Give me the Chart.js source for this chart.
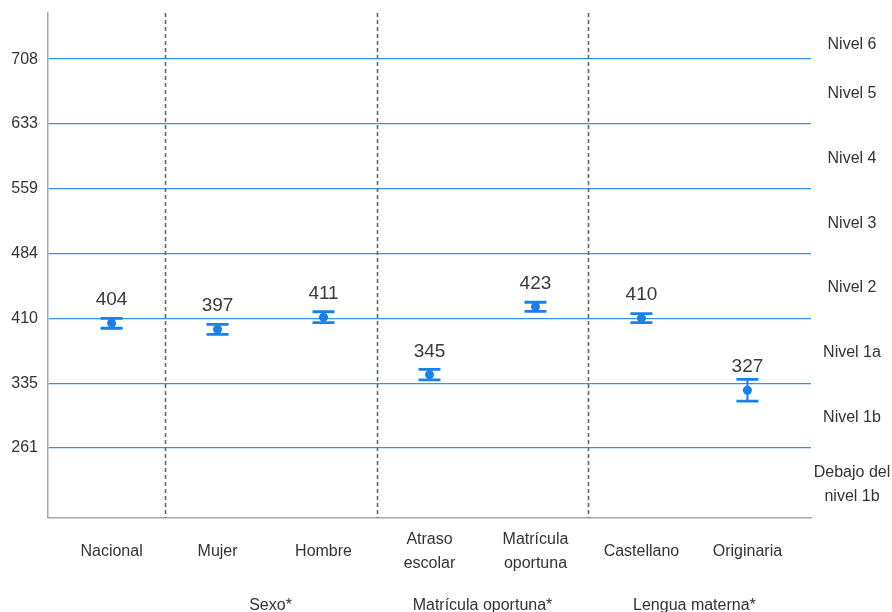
<!DOCTYPE html>
<html lang="es">
<head>
<meta charset="utf-8">
<title>Puntaje promedio en ciencia por grupo</title>
<script src="https://cdn.jsdelivr.net/npm/chart.js@4/dist/chart.umd.min.js"></script>
<style>
  html, body { margin: 0; padding: 0; background: #ffffff; }
  #wrap { width: 892px; height: 612px; position: relative; }
</style>
</head>
<body>
<div id="wrap"><canvas id="chart" width="892" height="612"></canvas></div>
<script>
// Groups shown along the x axis
const categories = [
  'Nacional',
  'Mujer',
  'Hombre',
  ['Atraso', 'escolar'],
  ['Matrícula', 'oportuna'],
  'Castellano',
  'Originaria'
];
// Mean score per group and half-width of its confidence interval
const scores = [404, 397, 411, 345, 423, 410, 327];
const margins = [5.7, 5.7, 6.3, 6.0, 5.2, 5.2, 12.6];

// Headings for the groups of columns (each sits between its two columns)
const groupTitles = ['Sexo*', 'Matrícula oportuna*', 'Lengua materna*'];

// Cut-off scores between proficiency levels (ticks and horizontal lines)
const levelCutoffs = [260.54, 334.94, 409.54, 484.14, 558.73, 633.33, 707.93];
const levelNames = [
  ['Debajo del', 'nivel 1b'],
  'Nivel 1b',
  'Nivel 1a',
  'Nivel 2',
  'Nivel 3',
  'Nivel 4',
  'Nivel 5',
  'Nivel 6'
];

const FONT = "'Liberation Sans', Arial, Helvetica, sans-serif";
const TEXT = '#333333';
const BLUE = '#1A7FE6';
const GRID = '#3593EF';
const AXIS = '#A8A8A8';

// Dashed separators between the column groups
const separators = [1.5, 3.5, 5.5];

const groupsPlugin = {
  id: 'groupsAndBars',
  beforeDatasetsDraw(chart) {
    const { ctx, chartArea, scales } = chart;
    const xs = scales.x, ys = scales.y;
    ctx.save();
    // group separators
    ctx.strokeStyle = '#666666';
    ctx.lineWidth = 1.6;
    ctx.setLineDash([4, 3]);
    separators.forEach(v => {
      const px = Math.round(xs.getPixelForValue(v)) + 0.5;
      ctx.beginPath();
      ctx.moveTo(px, chartArea.top);
      ctx.lineTo(px, chartArea.bottom);
      ctx.stroke();
    });
    ctx.setLineDash([]);
    // confidence intervals
    ctx.strokeStyle = BLUE;
    scores.forEach((s, i) => {
      const px = xs.getPixelForValue(i + 1);
      const yTop = ys.getPixelForValue(s + margins[i]);
      const yBot = ys.getPixelForValue(s - margins[i]);
      ctx.lineWidth = 2;
      ctx.beginPath();
      ctx.moveTo(px, yTop);
      ctx.lineTo(px, yBot);
      ctx.stroke();
      ctx.lineWidth = 2.8;
      ctx.beginPath();
      ctx.moveTo(px - 11, yTop);
      ctx.lineTo(px + 11, yTop);
      ctx.moveTo(px - 11, yBot);
      ctx.lineTo(px + 11, yBot);
      ctx.stroke();
    });
    ctx.restore();
  },
  afterDatasetsDraw(chart) {
    const { ctx, scales } = chart;
    const xs = scales.x, ys = scales.y;
    ctx.save();
    // score labels above each point
    ctx.fillStyle = '#3a3a3a';
    ctx.font = '19px ' + FONT;
    ctx.textAlign = 'center';
    ctx.textBaseline = 'alphabetic';
    scores.forEach((s, i) => {
      ctx.fillText(String(s), xs.getPixelForValue(i + 1), ys.getPixelForValue(s) - 18);
    });
    ctx.restore();
  },
  afterDraw(chart) {
    const { ctx, chartArea, scales } = chart;
    const ys = scales.y;
    ctx.save();
    // proficiency level names in the right margin, centred on their bands
    ctx.fillStyle = TEXT;
    ctx.font = '16px ' + FONT;
    ctx.textAlign = 'center';
    ctx.textBaseline = 'middle';
    const cx = chartArea.right + 41;
    const step = levelCutoffs[levelCutoffs.length - 1] - levelCutoffs[levelCutoffs.length - 2];
    levelNames.forEach((name, i) => {
      const lo = i === 0 ? ys.min : levelCutoffs[i - 1];
      let mid;
      if (i < levelCutoffs.length) {
        mid = (lo + levelCutoffs[i]) / 2;
      } else {
        mid = lo + step / 4; // open-ended top band
      }
      const py = ys.getPixelForValue(mid) + 2;
      const lines = Array.isArray(name) ? name : [name];
      lines.forEach((ln, k) => {
        ctx.fillText(ln, cx, py + (k - (lines.length - 1) / 2) * 24);
      });
    });
    ctx.restore();
  }
};

new Chart(document.getElementById('chart'), {
  type: 'scatter',
  data: {
    datasets: [{
      data: scores.map((s, i) => ({ x: i + 1, y: s })),
      pointRadius: 4.5,
      pointHoverRadius: 4.5,
      pointBackgroundColor: BLUE,
      pointBorderColor: BLUE,
      pointBorderWidth: 0,
      showLine: false
    }]
  },
  options: {
    responsive: false,
    animation: false,
    events: [],
    layout: { padding: { top: 13, right: 81, left: 0, bottom: 0 } },
    plugins: {
      legend: { display: false },
      tooltip: { enabled: false }
    },
    scales: {
      x: {
        type: 'linear',
        position: 'bottom',
        weight: 0,
        min: 0.4,
        max: 7.6,
        afterBuildTicks: s => { s.ticks = categories.map((c, i) => ({ value: i + 1 })); },
        afterFit: s => { s.height = 64; s.paddingLeft = 0; s.paddingRight = 0; },
        grid: { display: false, drawTicks: false },
        border: { display: true, color: AXIS, width: 1.5 },
        ticks: {
          autoSkip: false,
          maxRotation: 0,
          minRotation: 0,
          crossAlign: 'center',
          padding: 22,
          color: TEXT,
          font: { family: FONT, size: 16, lineHeight: 1.5 },
          callback: (v) => categories[Math.round(v) - 1]
        }
      },
      groups: {
        type: 'linear',
        position: 'bottom',
        weight: 1,
        min: 0.4,
        max: 7.6,
        afterBuildTicks: s => { s.ticks = groupTitles.map((g, i) => ({ value: 2.5 + 2 * i })); },
        afterFit: s => { s.height = 30; s.paddingLeft = 0; s.paddingRight = 0; },
        grid: { display: false, drawTicks: false },
        border: { display: false },
        ticks: {
          autoSkip: false,
          maxRotation: 0,
          minRotation: 0,
          padding: 14,
          color: TEXT,
          font: { family: FONT, size: 16, lineHeight: 1.2 },
          callback: (v) => groupTitles[Math.round((v - 2.5) / 2)]
        }
      },
      y: {
        type: 'linear',
        position: 'left',
        min: 180,
        max: 761,
        afterBuildTicks: s => { s.ticks = levelCutoffs.map(v => ({ value: v })); },
        afterFit: s => { s.width = 48; s.paddingTop = 0; s.paddingBottom = 0; },
        grid: { display: true, drawTicks: false, color: GRID, lineWidth: 1.3 },
        border: { display: true, color: AXIS, width: 1.5 },
        ticks: {
          padding: 10,
          color: TEXT,
          font: { family: FONT, size: 16 },
          callback: (v) => String(Math.round(v))
        }
      }
    }
  },
  plugins: [groupsPlugin]
});
</script>
</body>
</html>
